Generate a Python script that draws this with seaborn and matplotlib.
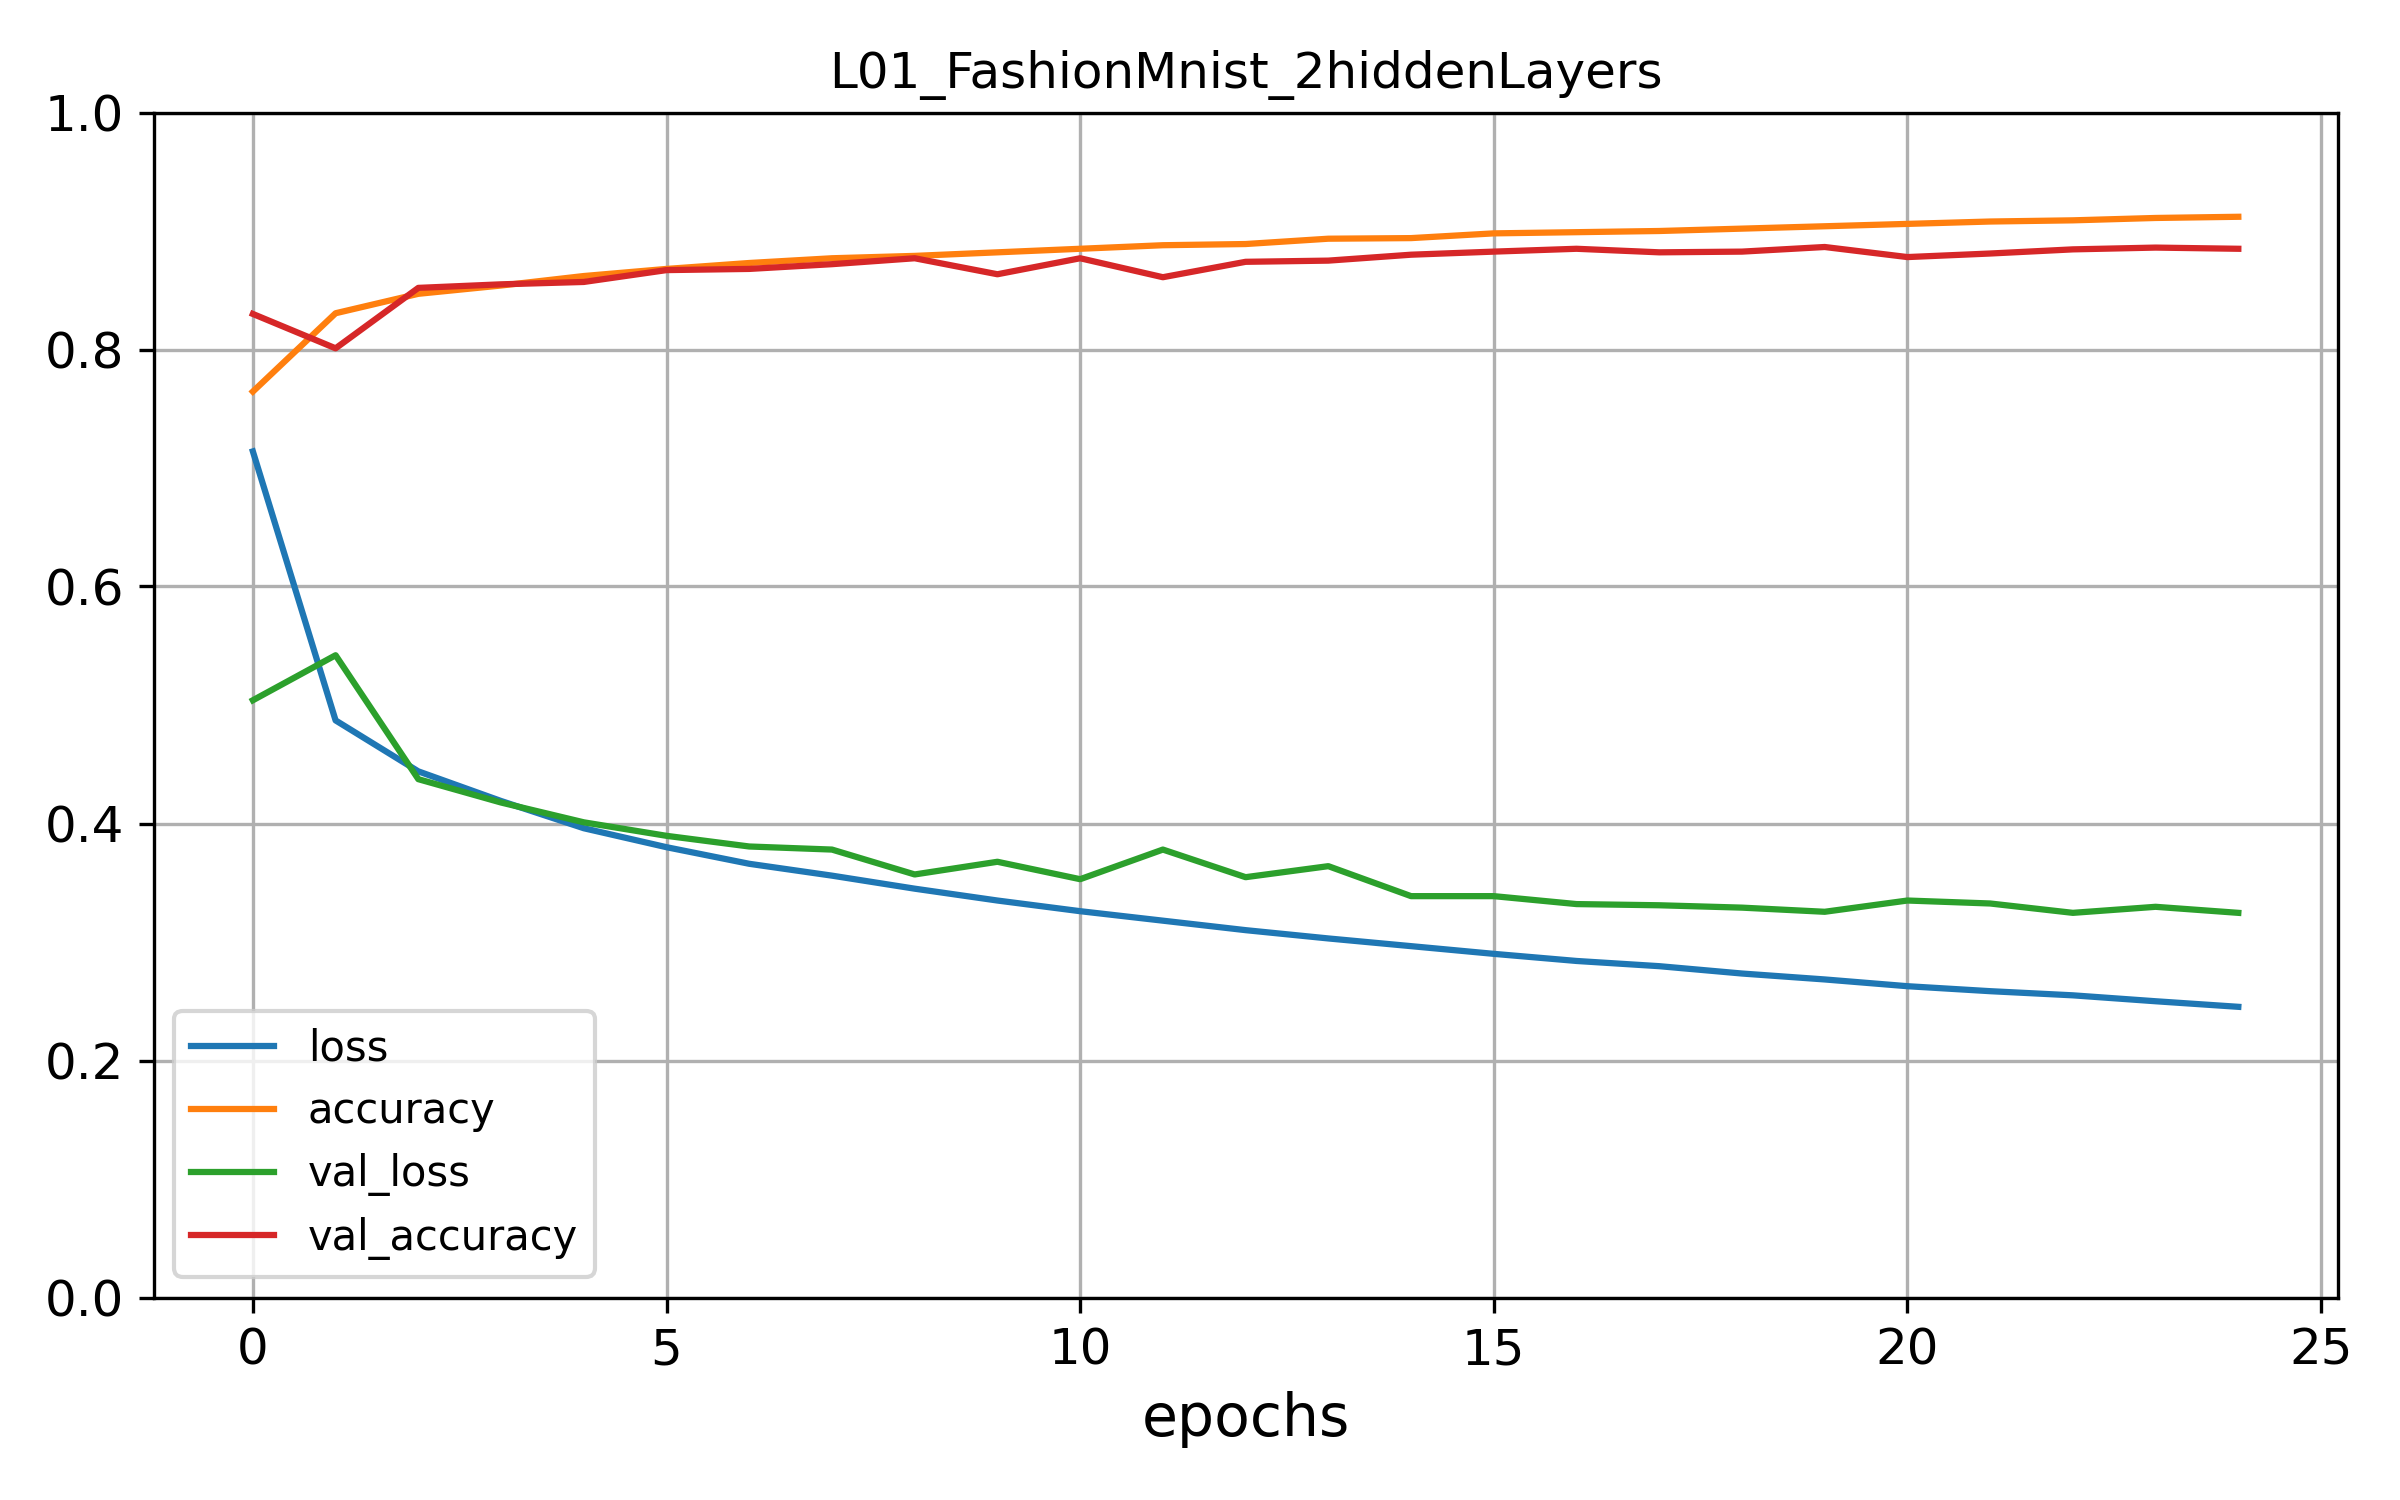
import numpy as np
import pandas as pd
import matplotlib
matplotlib.use("Agg")
import matplotlib.pyplot as plt
import seaborn as sns

# Training history (25 epochs)
epochs = list(range(25))
loss = [0.714, 0.487, 0.444, 0.419, 0.396, 0.380, 0.366, 0.356, 0.345, 0.335,
        0.326, 0.318, 0.310, 0.303, 0.2965, 0.290, 0.284, 0.2796, 0.2734, 0.2684,
        0.2627, 0.2585, 0.255, 0.250, 0.2453]
accuracy = [0.7645, 0.8306, 0.847, 0.854, 0.862, 0.868, 0.873, 0.877, 0.879, 0.882,
            0.885, 0.888, 0.889, 0.8935, 0.894, 0.898, 0.899, 0.900, 0.902, 0.904,
            0.906, 0.908, 0.909, 0.911, 0.912]
val_loss = [0.504, 0.542, 0.4374, 0.4177, 0.401, 0.3896, 0.3806, 0.378, 0.357, 0.3677,
            0.353, 0.378, 0.3547, 0.364, 0.3387, 0.3387, 0.332, 0.331, 0.329, 0.3255,
            0.335, 0.3325, 0.3246, 0.3297, 0.3246]
val_accuracy = [0.830, 0.801, 0.852, 0.855, 0.857, 0.867, 0.868, 0.872, 0.877, 0.8635,
                0.877, 0.861, 0.874, 0.875, 0.880, 0.8826, 0.885, 0.882, 0.8826, 0.8865,
                0.878, 0.881, 0.8845, 0.886, 0.885]

history = pd.DataFrame({
    "epoch": epochs,
    "loss": loss,
    "accuracy": accuracy,
    "val_loss": val_loss,
    "val_accuracy": val_accuracy,
})

fig, ax = plt.subplots(figsize=(8, 5), dpi=300)

for col in ["loss", "accuracy", "val_loss", "val_accuracy"]:
    sns.lineplot(data=history, x="epoch", y=col, label=col, ax=ax, linewidth=1.5)

ax.set_ylim(0, 1)
ax.set_xticks([0, 5, 10, 15, 20, 25])
ax.grid(True)
ax.tick_params(labelsize=12)
ax.set_title("L01_FashionMnist_2hiddenLayers", fontsize=12)
ax.set_xlabel("epochs", fontsize=14)
ax.set_ylabel("")
ax.legend(loc="lower left", fontsize=10)

plt.subplots_adjust(left=0.064, right=0.974, top=0.925, bottom=0.135)
plt.savefig("out.png", dpi=300)
